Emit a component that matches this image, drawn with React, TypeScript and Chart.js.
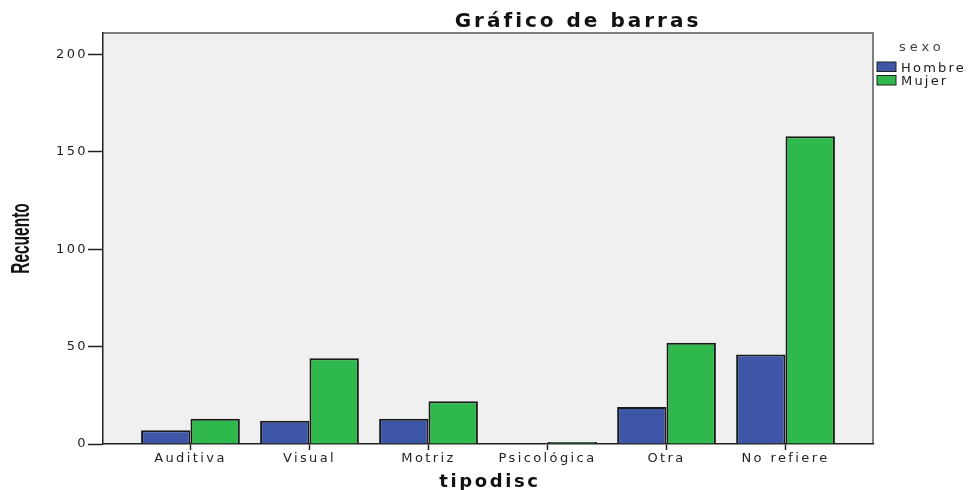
import React, { useEffect, useRef } from "react";
import { Chart, registerables } from "chart.js";

Chart.register(...registerables);

const categories = ["Auditiva", "Visual", "Motriz", "Psicológica", "Otra", "No refiere"];
const hombre = [7, 12, 13, 0, 19, 46];
const mujer = [13, 44, 22, 1, 52, 158];
const yTickValues = [0, 50, 100, 150, 200];
const seriesNames = ["Hombre", "Mujer"];
const seriesColors = ["#3d56a8", "#2fb84b"];
const chartTitle = "Gráfico de barras";
const xTitle = "tipodisc";
const yTitle = "Recuento";
const legendTitle = "sexo";

const decorPlugin = {
  id: "decor",
  beforeDraw(chart: any) {
    const { ctx, chartArea: a } = chart;
    ctx.save();
    ctx.fillStyle = "#f0f0f0";
    ctx.fillRect(a.left, a.top, a.right - a.left, a.bottom - a.top);
    ctx.strokeStyle = "#808080";
    ctx.lineWidth = 2;
    ctx.beginPath();
    ctx.moveTo(a.left, a.top);
    ctx.lineTo(a.right, a.top);
    ctx.lineTo(a.right, a.bottom);
    ctx.stroke();
    ctx.restore();
    ctx.letterSpacing = "2.4px";
  },
  afterDraw(chart: any) {
    const { ctx, chartArea: a } = chart;
    ctx.save();
    // main title
    ctx.letterSpacing = "3px";
    ctx.fillStyle = "#111";
    ctx.font = "bold 20px 'DejaVu Sans', sans-serif";
    ctx.textAlign = "center";
    ctx.textBaseline = "alphabetic";
    ctx.fillText(chartTitle, 578, 27);
    // x title
    ctx.letterSpacing = "2.6px";
    ctx.font = "bold 18px 'DejaVu Sans', sans-serif";
    ctx.fillText(xTitle, (a.left + a.right) / 2 + 2, 487);
    ctx.restore();

    // y title (condensed bold, rotated)
    ctx.save();
    ctx.letterSpacing = "0px";
    ctx.fillStyle = "#111";
    ctx.font = "bold 15.5px 'Liberation Sans', Arial, sans-serif";
    ctx.translate(22, (a.top + a.bottom) / 2);
    ctx.scale(1.65, 1);
    ctx.rotate(-Math.PI / 2);
    ctx.textAlign = "center";
    ctx.textBaseline = "middle";
    ctx.fillText(yTitle, 0, 0);
    ctx.restore();

    // legend
    ctx.save();
    ctx.fillStyle = "#444";
    ctx.font = "13px 'DejaVu Sans', sans-serif";
    ctx.letterSpacing = "4px";
    ctx.textAlign = "left";
    ctx.textBaseline = "alphabetic";
    ctx.fillText(legendTitle, a.right + 26, 51);
    ctx.letterSpacing = "2.2px";
    chart.data.datasets.forEach((ds: any, i: number) => {
      const y = 62 + i * 13.5;
      ctx.fillStyle = ds.backgroundColor;
      ctx.fillRect(a.right + 4, y, 19, 9.5);
      ctx.strokeStyle = "#222";
      ctx.lineWidth = 1;
      ctx.strokeRect(a.right + 4, y, 19, 9.5);
      ctx.fillStyle = "#1a1a1a";
      ctx.fillText(ds.label, a.right + 28, y + 9.5);
    });
    ctx.restore();
    ctx.letterSpacing = "0px";
  },
};

export default function App() {
  const ref = useRef<HTMLCanvasElement>(null);
  useEffect(() => {
    if (!ref.current) return;
    const series = [hombre, mujer];
    const chart = new Chart(ref.current, {
      type: "bar",
      data: {
        datasets: series.map((vals, s) => ({
          label: seriesNames[s],
          data: vals.map((v, i) => ({ x: i, y: v })),
          backgroundColor: seriesColors[s],
          borderColor: "#1a1a1a",
          borderWidth: 2,
          categoryPercentage: 0.83,
          barPercentage: 1.0,
        })),
      },
      options: {
        responsive: false,
        animation: false,
        devicePixelRatio: 1,
        layout: { padding: { top: 33, right: 100, left: 0, bottom: 0 } },
        plugins: {
          legend: { display: false },
          tooltip: { enabled: false },
          title: { display: false },
        },
        scales: {
          x: {
            type: "linear",
            offset: false,
            min: -0.735,
            max: 5.735,
            afterBuildTicks: (scale: any) => {
              scale.ticks = categories.map((_, i) => ({ value: i }));
            },
            afterFit: (scale: any) => {
              scale.height = 46;
            },
            ticks: {
              autoSkip: false,
              maxRotation: 0,
              padding: 1,
              color: "#1f1f1f",
              font: { family: "'DejaVu Sans', sans-serif", size: 13 },
              callback: (v: any) => categories[v as number] ?? "",
            },
            grid: {
              offset: false,
              drawOnChartArea: false,
              drawTicks: true,
              tickLength: 6,
              tickColor: "#222",
              tickWidth: 1.5,
            },
            border: { display: true, color: "#222", width: 1.5 },
          },
          y: {
            min: 0,
            max: 211,
            afterBuildTicks: (scale: any) => {
              scale.ticks = yTickValues.map((v) => ({ value: v }));
            },
            afterFit: (scale: any) => {
              scale.width = 103;
            },
            ticks: {
              padding: 0,
              color: "#1f1f1f",
              font: { family: "'DejaVu Sans', sans-serif", size: 13 },
            },
            grid: {
              drawOnChartArea: false,
              drawTicks: true,
              tickLength: 15,
              tickColor: "#222",
              tickWidth: 1.5,
            },
            border: { display: true, color: "#222", width: 1.5 },
          },
        },
      },
      plugins: [decorPlugin],
    } as any);
    return () => chart.destroy();
  }, []);
  return (
    <div style={{ position: "absolute", left: 0, top: 0, width: 973, height: 490, background: "#fff" }}>
      <canvas ref={ref} width={973} height={490} style={{ display: "block", width: 973, height: 490 }} />
    </div>
  );
}
